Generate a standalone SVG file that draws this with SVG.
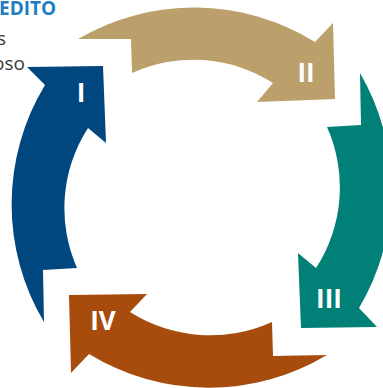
<svg xmlns="http://www.w3.org/2000/svg" width="383" height="388" viewBox="0 0 383 388">
<style>
.lbl{font-family:"Open Sans","Liberation Sans",sans-serif;font-weight:bold;font-size:26px;fill:#ffffff;text-anchor:middle}
.t{font-family:"Open Sans","Liberation Sans",sans-serif;font-size:19px;fill:#3a3a3a}
.h{font-family:"Open Sans","Liberation Sans",sans-serif;font-weight:bold;font-size:19px;fill:#1f7ec1}
</style>
<rect width="383" height="388" fill="#ffffff"/>
<text class="h" x="-1" y="15">EDITO</text>
<text class="t" x="-3" y="45">s</text>
<text class="t" x="-7" y="70">oso</text>
<g id="connectors">
<g id="arrow-II">
<path d="M78,39 A230,230 0 0 1 315,42 L333,23 L335,99 L257,102 L273,83 A148,148 0 0 0 132,73 L131,39 Z" fill="#bba06b"/>
<text class="lbl" x="306" y="82">II</text>
</g>
<g id="arrow-I">
<path d="M27,67 L103,66 L106,143 L88,128 A148,148 0 0 0 77,268 L43,270 L44,322 A230,230 0 0 1 45,85 Z" fill="#00467f"/>
<text class="lbl" x="81" y="102">I</text>
</g>
<g id="arrow-III">
<path d="M360,73 L361,125 L327,127 A148,148 0 0 1 316,268 L298,253 L301,328 L377,327 L359,308 A232,232 0 0 0 360,73 Z" fill="#008077"/>
<text class="lbl" x="329" y="308">III</text>
</g>
<g id="arrow-IV">
<path d="M69,295 L147,294 L130,312 A150,150 0 0 0 272,322 L273,356 L327,355 A230,230 0 0 1 89,354 L71,373 Z" fill="#a84c0e"/>
<text class="lbl" x="103" y="330">IV</text>
</g>
</g>
</svg>
